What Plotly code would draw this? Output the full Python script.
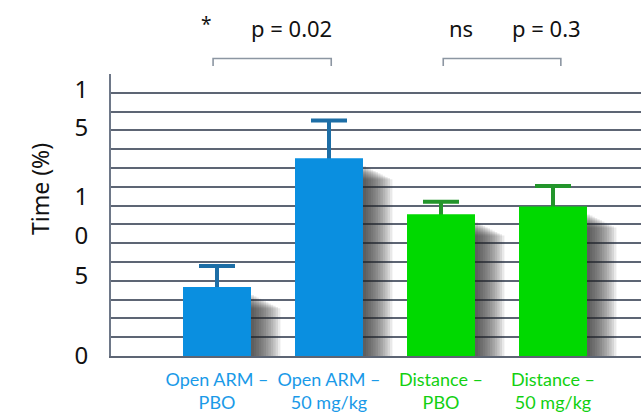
import plotly.graph_objects as go

# Bar chart: time (%) per condition, with upper error bars and p-value brackets
categories = ["Open ARM – PBO", "Open ARM – 50 mg/kg", "Distance – PBO", "Distance – 50 mg/kg"]
label_lines = [("Open ARM –", "PBO"), ("Open ARM –", "50 mg/kg"), ("Distance –", "PBO"), ("Distance –", "50 mg/kg")]
values = [4.40, 12.63, 9.04, 9.55]
errors = [1.35, 2.40, 0.80, 1.30]
groups = ["open", "open", "dist", "dist"]

y_tick_vals = [0, 5.15, 7.7, 10.15, 14.6, 17.0]
y_tick_text = ["0", "5", "0", "1", "5", "1"]

p_labels = ["*", "p = 0.02", "ns", "p = 0.3"]

BLUE = "#0a8fe0"
GREEN = "#00d900"
BLUE_ERR = "#1d6ea6"
GREEN_ERR = "#23952b"
LABEL_BLUE = "#1a9ae8"
LABEL_GREEN = "#12d012"
GRID = "#5d6574"

BAR_W = 0.607      # bar width, category units
PX_X = 112.0       # pixels per category
PX_Y = 15.68       # pixels per y unit
PLOT_L, PLOT_R, PLOT_T, PLOT_B = 111, 641, 74, 356


def px_to_paper(px, py):
    return (px - PLOT_L) / (PLOT_R - PLOT_L), (PLOT_B - py) / (PLOT_B - PLOT_T)


fig = go.Figure()

# soft drop shadow to the right of every bar (stacked translucent layers)
n_layers = 12
for i in range(n_layers):
    left = -BAR_W / 2 + 6 / PX_X
    right = BAR_W / 2 + (3 + 2.4 * i) / PX_X
    drop = (8 + 1.2 * i) / PX_Y
    fig.add_trace(go.Bar(
        x=categories,
        y=[max(v - drop, 0) for v in values],
        offset=left,
        width=right - left,
        marker=dict(color="rgba(35,35,40,0.10)", line=dict(width=0)),
        hoverinfo="skip",
        showlegend=False,
    ))

for grp, col, ecol in [("open", BLUE, BLUE_ERR), ("dist", GREEN, GREEN_ERR)]:
    idx = [k for k, g in enumerate(groups) if g == grp]
    xs = [categories[k] for k in idx]
    ys = [values[k] for k in idx]
    # error bar drawn from a transparent bar underneath, so its lower end hides behind the bar
    fig.add_trace(go.Bar(
        x=xs, y=ys, width=BAR_W,
        marker=dict(color="rgba(0,0,0,0)", line=dict(width=0)),
        error_y=dict(
            type="data", symmetric=False,
            array=[errors[k] for k in idx],
            arrayminus=[2.0] * len(idx),
            color=ecol, thickness=4, width=18,
        ),
        hoverinfo="skip", showlegend=False,
    ))
    fig.add_trace(go.Bar(
        x=xs, y=ys, width=BAR_W,
        marker=dict(color=col, line=dict(width=0)),
        showlegend=False,
    ))

tick_text = []
for (a, b), g in zip(label_lines, groups):
    c = LABEL_BLUE if g == "open" else LABEL_GREEN
    tick_text.append(f'<span style="color:{c}">{a}<br>{b}</span>')

# gridline-only axis overlaying the main y axis
fig.add_trace(go.Scatter(x=[categories[0]], y=[0], yaxis="y2", mode="markers",
                         marker=dict(opacity=0), hoverinfo="skip", showlegend=False))

x0 = (PLOT_L - 217) / PX_X
x1 = (PLOT_R - 217) / PX_X

fig.update_layout(
    width=641, height=416,
    margin=dict(l=PLOT_L, r=641 - PLOT_R, t=PLOT_T, b=416 - PLOT_B, autoexpand=False),
    paper_bgcolor="white", plot_bgcolor="white",
    barmode="overlay",
    font=dict(family="Lato, sans-serif", color="#111111"),
    xaxis=dict(
        type="category", categoryorder="array", categoryarray=categories,
        range=[x0, x1],
        tickvals=categories, ticktext=tick_text,
        tickfont=dict(size=18, family="Lato, sans-serif"),
        tickangle=0, automargin=False,
        ticks="outside", ticklen=6, tickcolor="rgba(0,0,0,0)",
        showgrid=False, zeroline=False,
        showline=True, linecolor=GRID, linewidth=2,
        fixedrange=True,
    ),
    yaxis=dict(
        range=[0, 18], automargin=False,
        tickvals=y_tick_vals, ticktext=y_tick_text,
        tickfont=dict(size=24, family="Noto Sans, sans-serif"),
        ticks="outside", ticklen=16, tickcolor="rgba(0,0,0,0)",
        showgrid=False, zeroline=False,
        showline=True, linecolor="#6e7888", linewidth=2,
    ),
    yaxis2=dict(
        range=[0, 18], overlaying="y", side="left",
        tick0=0, dtick=1.2, showticklabels=False, ticks="",
        showgrid=True, gridcolor=GRID, gridwidth=1.6,
        zeroline=False, showline=False,
    ),
)

# y-axis title
tx, ty = px_to_paper(40, 189)
fig.add_annotation(text="Time (%)", xref="paper", yref="paper", x=tx, y=ty,
                   xanchor="center", yanchor="middle", textangle=-90, showarrow=False,
                   font=dict(size=23, family="Noto Sans, sans-serif", color="#111111"))

# significance brackets between compared bars
_, b_top = px_to_paper(0, 58.5)
_, b_foot = px_to_paper(0, 66)
for a, b, pad_a, pad_b in [(0, 1, -0.035, 0.02), (2, 3, 0.02, 0.07)]:
    fig.add_shape(type="path", xref="x", yref="paper",
                  path=f"M {a + pad_a},{b_foot} L {a + pad_a},{b_top} L {b + pad_b},{b_top} L {b + pad_b},{b_foot}",
                  line=dict(color="#8c96a2", width=1.6))

# p-value labels (the asterisk is set smaller)
for txt, px, py, size in zip(p_labels, [205.5, 291.5, 460.8, 546.7], [24, 28, 28, 28], [19, 22, 22, 22]):
    ax, ay = px_to_paper(px, py)
    fig.add_annotation(text=txt, xref="paper", yref="paper", x=ax, y=ay,
                       xanchor="center", yanchor="middle", showarrow=False,
                       font=dict(size=size, family="Noto Sans, sans-serif", color="#111111"))

fig.write_html("out.html")
